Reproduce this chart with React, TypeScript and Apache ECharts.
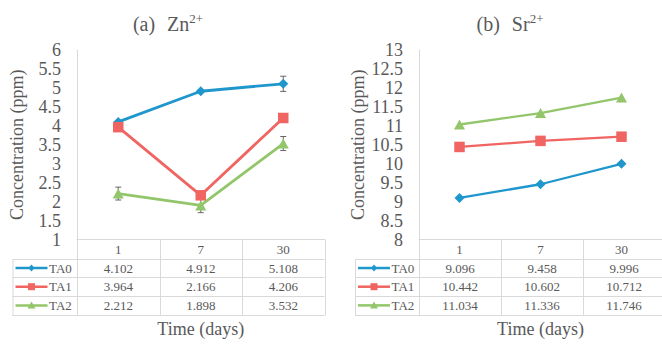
import React, { useEffect, useRef } from "react";
import * as echarts from "echarts";

// Sampling days (categories) and series names
const CATEGORIES = ["1", "7", "30"];
const SERIES_NAMES = ["TA0", "TA1", "TA2"];

// (a) Zn2+ concentration (ppm)
const ZN_TA0 = [4.102, 4.912, 5.108];
const ZN_TA1 = [3.964, 2.166, 4.206];
const ZN_TA2 = [2.212, 1.898, 3.532];
// standard deviations (null where the bar sits inside the marker)
const ZN_TA0_ERR = [null, null, 0.2];
const ZN_TA1_ERR = [null, null, null];
const ZN_TA2_ERR = [0.17, 0.19, 0.185];

// (b) Sr2+ concentration (ppm)
const SR_TA0 = [9.096, 9.458, 9.996];
const SR_TA1 = [10.442, 10.602, 10.712];
const SR_TA2 = [11.034, 11.336, 11.746];

// y-axis ranges
const ZN_AXIS = { min: 1, max: 6, interval: 0.5 };
const SR_AXIS = { min: 8, max: 13, interval: 0.5 };

const FONT = "Liberation Serif";
const TEXT = "#595959";
const BORDER = "#d9d9d9";
const COLORS = ["#1F97CD", "#F06461", "#93C66A"];
const SYMBOLS = ["diamond", "rect", "triangle"];

const PLOT_TOP = 50;
const PLOT_H = 189.5;
const HEADER_H = 19.2;
const ROW_H = 18.67;

type Panel = {
  label: string;
  ion: string;
  left: number;
  width: number;
  legendLeft: number;
  titleX: number;
  axis: { min: number; max: number; interval: number };
  values: number[][];
  errors: (number | null)[][] | null;
  lineWidth: number;
};

const PANELS: Panel[] = [
  {
    label: "(a)",
    ion: "Zn",
    left: 77,
    width: 247.5,
    legendLeft: 12.5,
    titleX: 163,
    axis: ZN_AXIS,
    values: [ZN_TA0, ZN_TA1, ZN_TA2],
    errors: [ZN_TA0_ERR, ZN_TA1_ERR, ZN_TA2_ERR],
    lineWidth: 2.8,
  },
  {
    label: "(b)",
    ion: "Sr",
    left: 419,
    width: 246,
    legendLeft: 355,
    titleX: 505,
    axis: SR_AXIS,
    values: [SR_TA0, SR_TA1, SR_TA2],
    errors: null,
    lineWidth: 2.3,
  },
];

function legendMarker(kind: string, cx: number, cy: number, color: string) {
  if (kind === "diamond") {
    return {
      type: "polygon",
      shape: { points: [[cx, cy - 3.5], [cx + 3, cy], [cx, cy + 3.5], [cx - 3, cy]] },
      style: { fill: color },
    };
  }
  if (kind === "rect") {
    return { type: "rect", shape: { x: cx - 3.5, y: cy - 3.5, width: 7, height: 7 }, style: { fill: color } };
  }
  return {
    type: "polygon",
    shape: { points: [[cx, cy - 4], [cx + 4, cy + 3], [cx - 4, cy + 3]] },
    style: { fill: color },
  };
}

function tableGraphics(p: Panel) {
  const els: any[] = [];
  const axisY = PLOT_TOP + PLOT_H;
  const rowTop = axisY + HEADER_H;
  const right = p.left + p.width;
  const colW = p.width / CATEGORIES.length;
  const line = (x1: number, y1: number, x2: number, y2: number) => ({
    type: "line",
    shape: { x1, y1, x2, y2 },
    style: { stroke: BORDER, lineWidth: 1 },
    silent: true,
  });
  // horizontal rules
  for (let r = 0; r <= SERIES_NAMES.length; r++) {
    const y = Math.round(rowTop + r * ROW_H) + 0.5;
    els.push(line(p.legendLeft, y, right, y));
  }
  const bottom = Math.round(rowTop + SERIES_NAMES.length * ROW_H) + 0.5;
  // vertical rules
  els.push(line(p.legendLeft + 0.5, Math.round(rowTop) + 0.5, p.legendLeft + 0.5, bottom));
  for (let c = 0; c <= CATEGORIES.length; c++) {
    const x = Math.round(p.left + c * colW) + 0.5;
    els.push(line(x, axisY, x, bottom));
  }
  // rows: legend key + values
  SERIES_NAMES.forEach((name, r) => {
    const cy = rowTop + (r + 0.5) * ROW_H;
    const color = COLORS[r];
    els.push({
      type: "line",
      shape: { x1: p.legendLeft + 3, y1: cy, x2: p.legendLeft + 35, y2: cy },
      style: { stroke: color, lineWidth: 2.5 },
    });
    els.push(legendMarker(SYMBOLS[r], p.legendLeft + 19, cy, color));
    els.push({
      type: "text",
      x: p.legendLeft + 36.5,
      y: cy,
      style: {
        text: name,
        fill: TEXT,
        fontFamily: FONT,
        fontSize: 13,
        verticalAlign: "middle",
        align: "left",
      },
    });
    p.values[r].forEach((v, c) => {
      els.push({
        type: "text",
        x: p.left + (c + 0.5) * colW,
        y: cy,
        style: {
          text: v.toFixed(3),
          fill: TEXT,
          fontFamily: FONT,
          fontSize: 13,
          align: "center",
          verticalAlign: "middle",
        },
      });
    });
  });
  return els;
}

function buildOption() {
  const series: any[] = [];
  PANELS.forEach((p, pi) => {
    p.values.forEach((vals, si) => {
      series.push({
        type: "line",
        name: SERIES_NAMES[si],
        xAxisIndex: pi,
        yAxisIndex: pi,
        data: vals,
        symbol: SYMBOLS[si],
        symbolSize: si === 0 ? [10, 10] : si === 1 ? [10.5, 10.5] : [11, 10],
        showSymbol: true,
        itemStyle: { color: COLORS[si] },
        lineStyle: { color: COLORS[si], width: p.lineWidth },
        z: 3,
      });
    });
    if (p.errors) {
      const data: number[][] = [];
      p.errors.forEach((errs, si) =>
        errs.forEach((e, ci) => {
          if (e != null) data.push([ci, p.values[si][ci], e]);
        })
      );
      series.push({
        type: "custom",
        xAxisIndex: pi,
        yAxisIndex: pi,
        z: 1,
        encode: { x: 0, y: 1 },
        data,
        renderItem: (_params: any, api: any) => {
          const x = api.value(0);
          const v = api.value(1);
          const e = api.value(2);
          const top = api.coord([x, v + e]);
          const bot = api.coord([x, v - e]);
          const cap = 3;
          const st = { stroke: "#666666", lineWidth: 1 };
          return {
            type: "group",
            children: [
              { type: "line", shape: { x1: top[0], y1: top[1], x2: bot[0], y2: bot[1] }, style: st },
              { type: "line", shape: { x1: top[0] - cap, y1: top[1], x2: top[0] + cap, y2: top[1] }, style: st },
              { type: "line", shape: { x1: bot[0] - cap, y1: bot[1], x2: bot[0] + cap, y2: bot[1] }, style: st },
            ],
          };
        },
      });
    }
  });

  const richBase = { fontFamily: FONT, fontWeight: "normal", color: TEXT };

  return {
    animation: false,
    backgroundColor: "#ffffff",
    textStyle: { fontFamily: FONT },
    title: PANELS.map((p) => ({
      text: `{m|${p.label}}{n|${p.ion}}{s|2+}`,
      left: p.titleX,
      top: 7,
      textAlign: "center",
      textStyle: {
        fontFamily: FONT,
        fontWeight: "normal",
        color: TEXT,
        rich: {
          m: { ...richBase, fontSize: 20, lineHeight: 22, verticalAlign: "bottom" },
          n: { ...richBase, fontSize: 20, lineHeight: 22, verticalAlign: "bottom", padding: [0, 0, 0, 12] },
          s: { ...richBase, fontSize: 13, lineHeight: 17, verticalAlign: "top" },
        },
      },
    })),
    grid: PANELS.map((p) => ({ left: p.left, top: PLOT_TOP, width: p.width, height: PLOT_H })),
    xAxis: PANELS.map((_p, i) => ({
      type: "category",
      gridIndex: i,
      data: CATEGORIES,
      boundaryGap: true,
      axisLine: { show: true, lineStyle: { color: BORDER, width: 1 } },
      axisTick: { show: false },
      axisLabel: { margin: 3, fontSize: 13, color: TEXT, fontFamily: FONT },
      splitLine: { show: false },
      name: "Time (days)",
      nameLocation: "middle",
      nameGap: 80,
      nameTextStyle: { fontSize: 18, color: TEXT, fontFamily: FONT },
    })),
    yAxis: PANELS.map((p, i) => ({
      type: "value",
      gridIndex: i,
      min: p.axis.min,
      max: p.axis.max,
      interval: p.axis.interval,
      axisLine: { show: true, lineStyle: { color: BORDER, width: 1 } },
      axisTick: { show: false },
      splitLine: { show: false },
      axisLabel: { margin: 16, fontSize: 18, color: TEXT, fontFamily: FONT },
      name: "Concentration (ppm)",
      nameLocation: "middle",
      nameGap: i === 0 ? 51 : 52,
      nameTextStyle: { fontSize: 18, color: TEXT, fontFamily: FONT },
    })),
    series,
    graphic: PANELS.flatMap((p) => tableGraphics(p)),
  };
}

export default function App() {
  const ref = useRef<HTMLDivElement>(null);
  useEffect(() => {
    if (!ref.current) return;
    const chart = echarts.init(ref.current, null, { renderer: "svg" });
    chart.setOption(buildOption() as any);
    return () => chart.dispose();
  }, []);
  return (
    <div
      ref={ref}
      style={{ position: "absolute", left: 0, top: 0, width: 662, height: 344, background: "#fff" }}
    />
  );
}
